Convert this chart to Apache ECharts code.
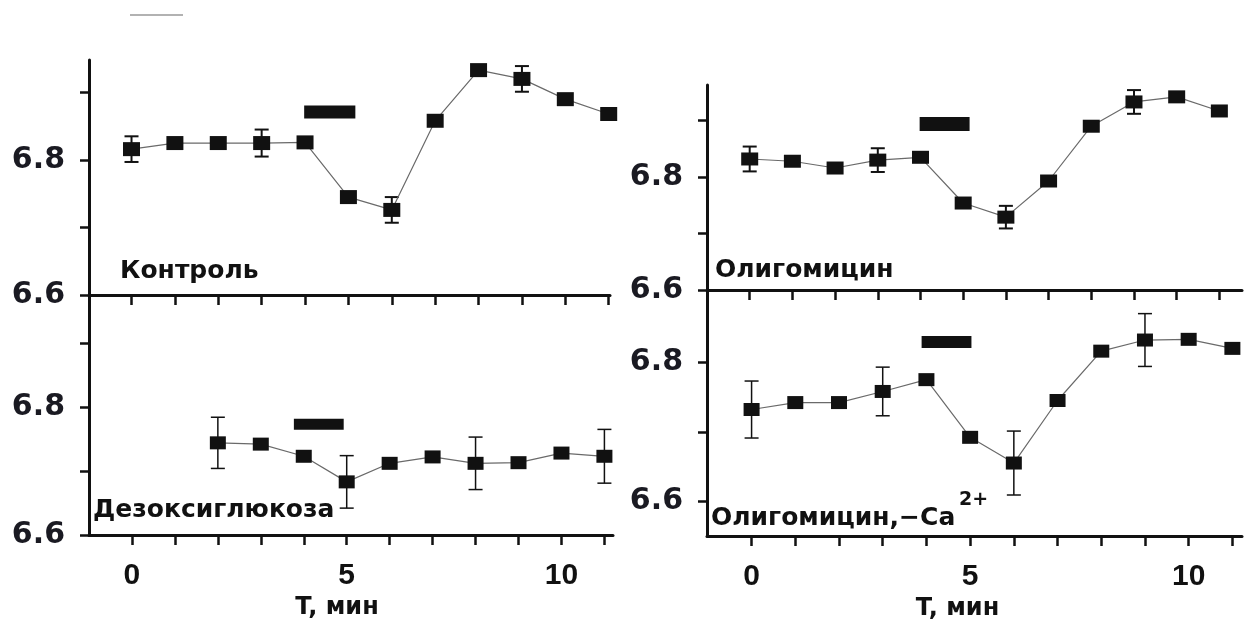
<!DOCTYPE html>
<html>
<head>
<meta charset="utf-8">
<script src="https://cdn.jsdelivr.net/npm/echarts@6/dist/echarts.min.js"></script>
<style>
  html, body { margin: 0; padding: 0; background: #fff; }
  #chart { width: 1247px; height: 624px; }
</style>
</head>
<body>
<div id="chart"></div>
<script>
// время, мин
const T = [0, 1, 2, 3, 4, 5, 6, 7, 8, 9, 10, 11]
const xTicks = [0, 1, 2, 3, 4, 5, 6, 7, 8, 9, 10, 11]
const xLabels = [0, 5, 10]
const yTicks = [6.6, 6.7, 6.8, 6.9]
const yLabels = [6.6, 6.8]

// Контроль
const ctrlPH = [6.816, 6.825, 6.825, 6.825, 6.826, 6.745, 6.726, 6.858, 6.933, 6.92, 6.89, 6.868]
const ctrlErr = [0.019, null, null, 0.02, null, null, 0.019, null, null, 0.019, null, null]
const ctrlBar = [[3.98, 6.871], [5.16, 6.871]]

// Олигомицин
const oligoPH = [6.832, 6.828, 6.816, 6.83, 6.835, 6.754, 6.729, 6.793, 6.89, 6.933, 6.942, 6.917]
const oligoErr = [0.022, null, null, 0.021, null, null, 0.02, null, null, 0.021, null, null]
const oligoBar = [[3.98, 6.894], [5.15, 6.894]]

// Дезоксиглюкоза
const deoxyPH = [null, null, 6.744, 6.742, 6.723, 6.683, 6.712, 6.722, 6.712, 6.713, 6.728, 6.723]
const deoxyErr = [null, null, 0.04, null, null, 0.041, null, null, 0.041, null, null, 0.042]
const deoxyBar = [[3.77, 6.773], [4.93, 6.773]]

// Олигомицин, -Ca2+
const oligoCaPH = [6.732, 6.742, 6.742, 6.758, 6.775, 6.692, 6.655, 6.745, 6.816, 6.832, 6.833, 6.82]
const oligoCaErr = [0.041, null, null, 0.035, null, null, 0.046, null, null, 0.038, null, null]
const oligoCaBar = [[3.89, 6.829], [5.03, 6.829]]

const INK = '#111'

function pairs(ys) {
  return T.map((t, i) => [t, ys[i]])
}

function lineSeries(idx, ys, size) {
  return {
    type: 'line', xAxisIndex: idx, yAxisIndex: idx, z: 4,
    data: pairs(ys),
    symbol: 'rect', symbolSize: size,
    itemStyle: { color: INK },
    lineStyle: { color: '#6a6a6a', width: 1.2 },
    animation: false
  }
}

function errorSeries(idx, ys, errs, lw) {
  const data = []
  ys.forEach((v, i) => {
    if (v != null && errs[i] != null) data.push([T[i], v - errs[i], v + errs[i]])
  })
  return {
    type: 'custom', xAxisIndex: idx, yAxisIndex: idx, z: 3,
    renderItem: (params, api) => {
      const lo = api.coord([api.value(0), api.value(1)])
      const hi = api.coord([api.value(0), api.value(2)])
      const cap = 14
      const st = { stroke: INK, lineWidth: lw }
      return {
        type: 'group',
        children: [
          { type: 'line', shape: { x1: lo[0], y1: lo[1], x2: hi[0], y2: hi[1] }, style: st },
          { type: 'line', shape: { x1: lo[0] - cap / 2, y1: lo[1], x2: lo[0] + cap / 2, y2: lo[1] }, style: st },
          { type: 'line', shape: { x1: hi[0] - cap / 2, y1: hi[1], x2: hi[0] + cap / 2, y2: hi[1] }, style: st }
        ]
      }
    },
    data,
    animation: false
  }
}

function barSeries(idx, pts, w) {
  return {
    type: 'line', xAxisIndex: idx, yAxisIndex: idx, z: 5,
    data: pts, symbol: 'none',
    lineStyle: { color: INK, width: w, cap: 'butt' },
    animation: false
  }
}

function xAxis(idx, min, max, withLabels) {
  return {
    type: 'value', gridIndex: idx, min, max,
    axisLine: { onZero: false, lineStyle: { color: INK, width: 3 } },
    axisTick: { customValues: xTicks, length: 10, lineStyle: { color: INK, width: 2.5 } },
    splitLine: { show: false },
    axisLabel: {
      show: withLabels, customValues: xLabels, margin: 26,
      fontFamily: 'Liberation Sans', fontWeight: 'bold', fontSize: 30, color: INK
    },
    name: withLabels ? 'T, мин' : '',
    nameLocation: 'middle', nameGap: 61,
    nameTextStyle: {
      fontFamily: 'DejaVu Sans', fontWeight: 'bold', fontSize: 24, color: INK,
      padding: [0, idx === 1 ? 28 : 34, 0, 0]
    }
  }
}

function yAxis(idx, min, max, ticks) {
  return {
    type: 'value', gridIndex: idx, min, max,
    axisLine: { onZero: false, lineStyle: { color: INK, width: 3 } },
    axisTick: { customValues: ticks, length: 9, lineStyle: { color: INK, width: 2.5 } },
    splitLine: { show: false },
    axisLabel: {
      customValues: yLabels, margin: 24,
      formatter: v => v.toFixed(1),
      fontFamily: 'DejaVu Sans', fontWeight: 'bold', fontSize: 30, color: '#1a1a22'
    }
  }
}

function panelLabel(text, x, y) {
  return {
    type: 'text', x, y, z: 10,
    style: {
      text, fill: INK, font: 'bold 25px "DejaVu Sans"',
      textAlign: 'left', textVerticalAlign: 'middle'
    }
  }
}

const chart = echarts.init(document.getElementById('chart'), null, { renderer: 'canvas' })

chart.setOption({
  backgroundColor: '#fff',
  animation: false,
  grid: [
    { left: 89, top: 60, width: 521, height: 235 },   // Контроль
    { left: 89, top: 295, width: 524, height: 240 },  // Дезоксиглюкоза
    { left: 707, top: 85, width: 535, height: 205 },  // Олигомицин
    { left: 707, top: 290, width: 535, height: 246 }  // Олигомицин, -Ca
  ],
  xAxis: [
    xAxis(0, -0.98, 11.03, false),
    xAxis(1, -1, 11.2, true),
    xAxis(2, -1, 11.53, false),
    xAxis(3, -1.02, 11.22, true)
  ],
  yAxis: [
    yAxis(0, 6.6, 6.948, yTicks),
    yAxis(1, 6.6, 6.975, yTicks),
    yAxis(2, 6.6, 6.963, yTicks),
    yAxis(3, 6.55, 6.904, [6.6, 6.7, 6.8])
  ],
  series: [
    errorSeries(0, ctrlPH, ctrlErr, 2),
    lineSeries(0, ctrlPH, [17, 14]),
    barSeries(0, ctrlBar, 13),

    errorSeries(1, deoxyPH, deoxyErr, 1.5),
    lineSeries(1, deoxyPH, [16, 13]),
    barSeries(1, deoxyBar, 11),

    errorSeries(2, oligoPH, oligoErr, 2),
    lineSeries(2, oligoPH, [17, 13]),
    barSeries(2, oligoBar, 14),

    errorSeries(3, oligoCaPH, oligoCaErr, 1.5),
    lineSeries(3, oligoCaPH, [16, 13]),
    barSeries(3, oligoCaBar, 12)
  ],
  graphic: [
    panelLabel('Контроль', 120, 271.5),
    panelLabel('Олигомицин', 715, 270.5),
    panelLabel('Дезоксиглюкоза', 93, 510.5),
    panelLabel('Олигомицин,−Ca', 711, 518.5),
    {
      type: 'text', x: 959, y: 500, z: 10,
      style: { text: '2+', fill: INK, font: 'bold 19px "DejaVu Sans"', textVerticalAlign: 'middle' }
    },
    // обрезанный фрагмент сверху
    {
      type: 'line', shape: { x1: 130, y1: 15, x2: 183, y2: 15 },
      style: { stroke: '#999', lineWidth: 1.5 }
    }
  ]
})

window.addEventListener('resize', () => chart.resize())
</script>
</body>
</html>
